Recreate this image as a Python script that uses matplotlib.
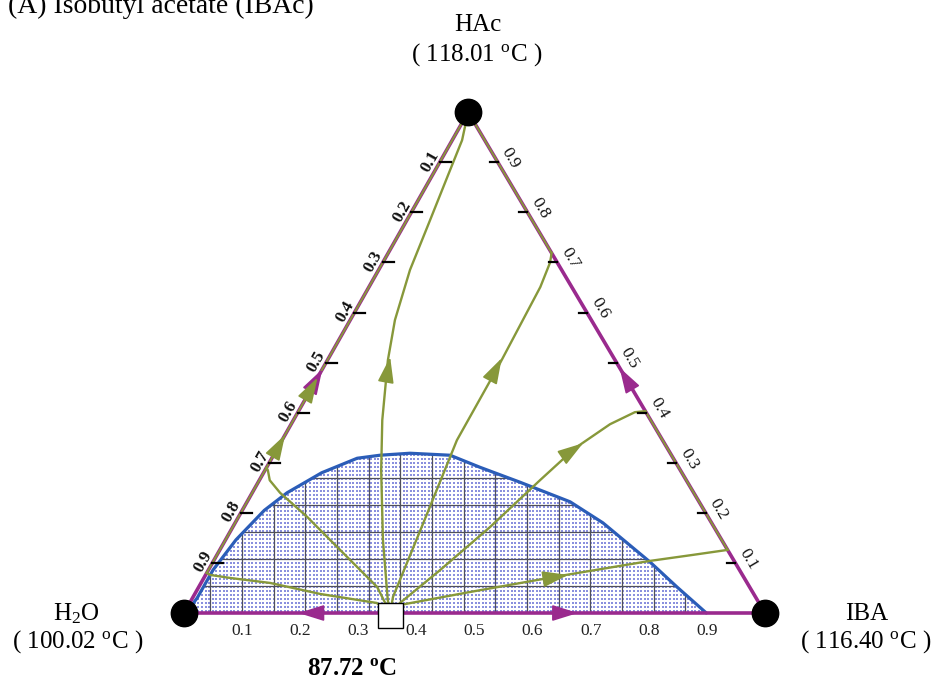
import numpy as np
import matplotlib
matplotlib.use("Agg")
import matplotlib.pyplot as plt
from matplotlib.patches import Polygon

plt.rcParams['font.family'] = ['Liberation Serif', 'DejaVu Serif']
plt.rcParams['mathtext.fontset'] = 'custom'
plt.rcParams['mathtext.rm'] = 'Liberation Serif'
plt.rcParams['mathtext.it'] = 'Liberation Serif:italic'
plt.rcParams['mathtext.bf'] = 'Liberation Serif:bold'

# ---------------------------------------------------------------- data
title = "(A) Isobutyl acetate (IBAc)"
comp_names = ["H$_2$O", "IBA", "HAc"]
comp_tb = [100.02, 116.40, 118.01]          # pure-component boiling points, degC
azeo_temp = 87.72                            # H2O-IBA heterogeneous azeotrope
azeo_iba = 0.355

tick_values = [0.1, 0.2, 0.3, 0.4, 0.5, 0.6, 0.7, 0.8, 0.9]

# liquid-liquid binodal, (x_IBA, x_HAc)
binodal_iba = [0.003, 0.008, 0.008, 0.018, 0.038, 0.060, 0.100, 0.147, 0.183,
               0.233, 0.304, 0.367, 0.451, 0.556, 0.633, 0.752, 0.823, 0.899]
binodal_hac = [0.000, 0.030, 0.086, 0.146, 0.205, 0.240, 0.280, 0.309, 0.315,
               0.319, 0.315, 0.291, 0.261, 0.222, 0.180, 0.102, 0.052, 0.000]

# residue curves leaving the azeotrope, (x_IBA, x_HAc)
rc1_iba = [0.355, 0.322, 0.216, 0.119, 0.045, 0.008, 0.000]
rc1_hac = [0.000, 0.020, 0.038, 0.060, 0.070, 0.076, 0.080]

rc2_iba = [0.355, 0.307, 0.180, 0.118, 0.048, 0.018, 0.005, 0.000]
rc2_hac = [0.000, 0.052, 0.146, 0.192, 0.240, 0.265, 0.285, 0.290]

rc3_iba = [0.355, 0.338, 0.271, 0.200, 0.153, 0.104, 0.077, 0.054, 0.040, 0.027, 0.017, 0.000]
rc3_hac = [0.000, 0.026, 0.146, 0.285, 0.385, 0.505, 0.585, 0.685, 0.784, 0.874, 0.944, 1.000]

rc4_iba = [0.355, 0.344, 0.324, 0.301, 0.300, 0.295, 0.288, 0.284, 0.281]
rc4_hac = [0.000, 0.032, 0.180, 0.345, 0.499, 0.651, 0.699, 0.711, 0.719]

rc5_iba = [0.355, 0.362, 0.399, 0.443, 0.483, 0.512, 0.549, 0.580, 0.597]
rc5_hac = [0.000, 0.020, 0.086, 0.172, 0.265, 0.329, 0.377, 0.401, 0.403]

rc6_iba = [0.355, 0.364, 0.472, 0.611, 0.751, 0.819, 0.874]
rc6_hac = [0.000, 0.016, 0.042, 0.074, 0.104, 0.116, 0.126]

# stretches of the triangle edges followed by residue curves, (x_IBA, x_HAc)
left_run_iba = [0.000, 0.000]
left_run_hac = [0.080, 1.000]
right_run_top_iba = [0.281, 0.000]
right_run_top_hac = [0.719, 1.000]
right_run_low_iba = [0.874, 0.597]
right_run_low_hac = [0.126, 0.403]

# ---------------------------------------------------------------- geometry
APEX_X, APEX_Y = 0.489, 0.862          # HAc vertex; H2O at (0,0), IBA at (1,0)
PX = 581.0                              # pixels per unit side


def to_xy(iba, hac):
    iba = np.asarray(iba, float)
    hac = np.asarray(hac, float)
    return iba + APEX_X * hac, APEX_Y * hac


def P(px, py):
    return (px - 184) / PX, (613 - py) / PX


PURPLE = '#9a2a8e'
OLIVE = '#87983a'
BLUE = '#2b5db8'

fig = plt.figure(figsize=(9.35, 6.79), dpi=100)
ax = fig.add_axes([0, 0, 1, 1])
ax.set_xlim(-184 / PX, 751 / PX)
ax.set_ylim(-66 / PX, 613 / PX)
ax.axis('off')

# ---------------------------------------------------------------- two-liquid region
bx, by = to_xy(binodal_iba, binodal_hac)
region = Polygon(np.column_stack([bx, by]), closed=True, facecolor='white',
                 edgecolor='none', zorder=1)
ax.add_patch(region)

dx, dy = 3.6 / PX, 4.0 / PX
gx, gy = np.meshgrid(np.arange(0, 1, dx), np.arange(dy * 0.5, 0.34, dy))
dots = ax.scatter(gx.ravel(), gy.ravel(), s=0.55, marker='s', c='#8a90de',
                  linewidths=0, zorder=2)
dots.set_clip_path(region)

for k in range(-4, 20):
    xv = 0.1 + k * 0.0545
    ln, = ax.plot([xv, xv], [0, 0.4], color='#50505a', lw=0.9, zorder=3)
    ln.set_clip_path(region)
for k in range(1, 9):
    yv = k * 0.0465
    ln, = ax.plot([0, 1], [yv, yv], color='#50505a', lw=0.9, zorder=3)
    ln.set_clip_path(region)

ax.plot(bx, by, color=BLUE, lw=2.3, zorder=4, solid_capstyle='round')

# ---------------------------------------------------------------- triangle edges
tri_x, tri_y = to_xy([0, 1, 0, 0], [0, 0, 1, 0])
ax.plot(tri_x, tri_y, color=PURPLE, lw=2.6, zorder=5, solid_joinstyle='round')

for ri, rh in [(left_run_iba, left_run_hac), (right_run_top_iba, right_run_top_hac),
               (right_run_low_iba, right_run_low_hac)]:
    ex, ey = to_xy(ri, rh)
    ax.plot(ex, ey, color=OLIVE, lw=1.4, zorder=6)

# ---------------------------------------------------------------- residue curves
curves = [(rc1_iba, rc1_hac), (rc2_iba, rc2_hac), (rc3_iba, rc3_hac),
          (rc4_iba, rc4_hac), (rc5_iba, rc5_hac), (rc6_iba, rc6_hac)]
for ci, ch in curves:
    cx, cy = to_xy(ci, ch)
    ax.plot(cx, cy, color=OLIVE, lw=1.7, zorder=6, solid_joinstyle='round')


def arrow_at(ci, ch, tip_iba, tip_hac, color):
    cx, cy = to_xy(ci, ch)
    tx, ty = to_xy(tip_iba, tip_hac)
    tx, ty = float(tx), float(ty)
    d = np.hypot(cx - tx, cy - ty)
    i = int(np.argmin(d[:-1] + d[1:]))
    vx, vy = cx[i + 1] - cx[i], cy[i + 1] - cy[i]
    n = np.hypot(vx, vy)
    vx, vy = vx / n, vy / n
    ax.annotate('', xy=(tx, ty), xytext=(tx - 0.03 * vx, ty - 0.03 * vy),
                arrowprops=dict(arrowstyle='-|>,head_length=0.8,head_width=0.25',
                                color=color, lw=1.2, shrinkA=0, shrinkB=0,
                                mutation_scale=20),
                zorder=7)


# along the edges
arrow_at([0.355, 0.0], [0, 0], 0.197, 0.0, PURPLE)
arrow_at([0.355, 1.0], [0, 0], 0.678, 0.0, PURPLE)
arrow_at([1.0, 0.0], [0.0, 1.0], 0.51, 0.49, PURPLE)
arrow_at([0.0, 0.0], [0.0, 1.0], 0.0, 0.487, PURPLE)
arrow_at([0.0, 0.0], [0.0, 1.0], 0.0, 0.470, OLIVE)
arrow_at([0.0, 0.0], [0.0, 1.0], 0.0, 0.356, OLIVE)
# inside the triangle
arrow_at(rc3_iba, rc3_hac, 0.105, 0.511, OLIVE)
arrow_at(rc4_iba, rc4_hac, 0.298, 0.509, OLIVE)
arrow_at(rc5_iba, rc5_hac, 0.521, 0.339, OLIVE)
arrow_at(rc6_iba, rc6_hac, 0.624, 0.076, OLIVE)

# ---------------------------------------------------------------- ticks & labels
tv = np.array(tick_values)
# bottom axis: x_IBA
bxs, _ = to_xy(tv, np.zeros_like(tv))
for v, x in zip(tick_values, bxs):
    ax.text(x, -18 / PX, f"{v:.1f}", ha='center', va='center', fontsize=12.5,
            color='#222222', zorder=8)
# left side: x_H2O
lx, ly = to_xy(np.zeros_like(tv), 1 - tv)
for v, x, y in zip(tick_values, lx, ly):
    ax.plot([x, x + 11 / PX], [y, y], color='black', lw=1.6, zorder=8)
    ax.text(x - 9.5 / PX, y + 1 / PX, f"{v:.1f}", ha='center', va='center',
            rotation=60.5, fontsize=12.5, fontweight='bold', color='#111111',
            zorder=8)
# right side: x_HAc
rx, ry = to_xy(1 - tv, tv)
for v, x, y in zip(tick_values, rx, ry):
    ax.plot([x - 8 / PX, x], [y, y], color='black', lw=1.6, zorder=8)
    ax.text(x + 13 / PX, y + 4 / PX, f"{v:.1f}", ha='center', va='center',
            rotation=-59.3, fontsize=12.5, color='#111111', zorder=8)

# ---------------------------------------------------------------- vertices & azeotrope
vx, vy = to_xy([0, 1, 0], [0, 0, 1])
ax.plot(vx, vy, 'o', ms=19, color='black', zorder=9, linestyle='none')
axz, ayz = to_xy(azeo_iba, 0.0)
ax.plot(axz, ayz - 1.5 / PX, 's', ms=18, mfc='white', mec='black', mew=1.0, zorder=10)

# ---------------------------------------------------------------- text
fs = 18
ax.text(*P(478, 31), comp_names[2], ha='center', va='baseline', fontsize=fs)
ax.text(*P(477, 61), f"( {comp_tb[2]:.2f} $^{{\\rm o}}$C )", ha='center',
        va='baseline', fontsize=fs)
ax.text(*P(76, 620), comp_names[0], ha='center', va='baseline', fontsize=fs)
ax.text(*P(78, 648), f"( {comp_tb[0]:.2f} $^{{\\rm o}}$C )", ha='center',
        va='baseline', fontsize=fs)
ax.text(*P(867, 620), comp_names[1], ha='center', va='baseline', fontsize=fs)
ax.text(*P(866, 648), f"( {comp_tb[1]:.2f} $^{{\\rm o}}$C )", ha='center',
        va='baseline', fontsize=fs)
ax.text(*P(352, 675), f"{azeo_temp:.2f} $^{{\\bf o}}$C", ha='center',
        va='baseline', fontsize=fs, fontweight='bold')
ax.text(*P(8, 13), title, ha='left', va='baseline', fontsize=20)

fig.savefig('out.png', dpi=100)
